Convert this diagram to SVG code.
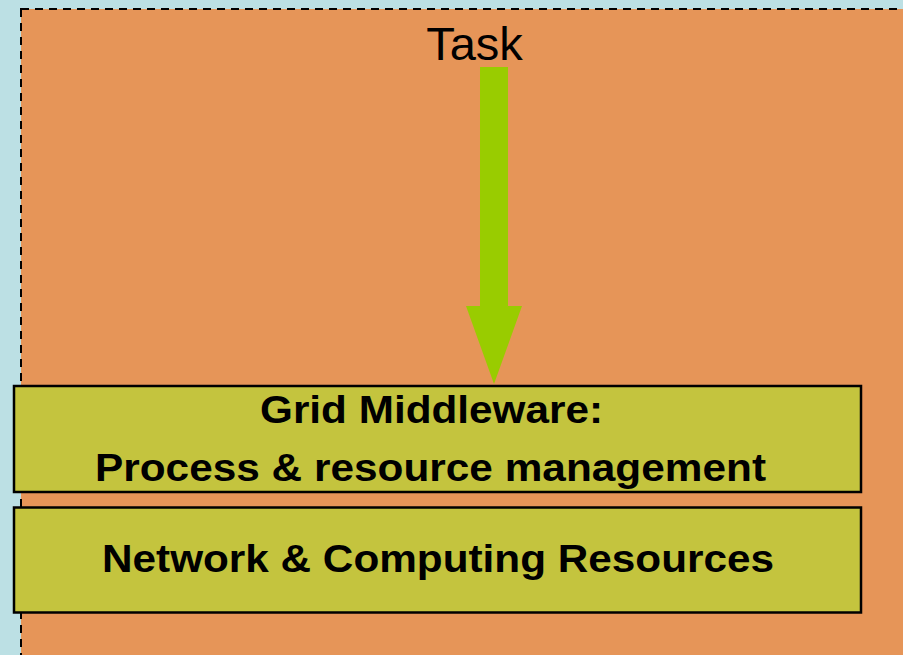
<svg xmlns="http://www.w3.org/2000/svg" width="903" height="655" viewBox="0 0 903 655">
<style>
.box{fill:#C4C43E;stroke:#000;stroke-width:2.5}
.lbl{font-family:"Liberation Sans",Arial,sans-serif;font-weight:bold;font-size:38px;fill:#000}
</style>
<rect x="0" y="0" width="903" height="655" fill="#BCE0E4"/>
<rect id="frame" x="21" y="9" width="900" height="700" fill="#E69558" stroke="#000" stroke-width="2" stroke-dasharray="8,6"/>
<text id="task" x="474.5" y="60" text-anchor="middle" font-family="'Liberation Sans',Arial,sans-serif" font-size="47" fill="#000">Task</text>
<g id="connectors">
<polygon points="480,67 508,67 508,306 522,306 494,384 466,306 480,306" fill="#99CC00"/>
</g>
<g id="middleware">
<rect class="box" x="14" y="386" width="847" height="106"/>
<text class="lbl" x="431.5" y="423" text-anchor="middle" textLength="343" lengthAdjust="spacingAndGlyphs">Grid Middleware:</text>
<text class="lbl" x="430.5" y="481" text-anchor="middle" textLength="671" lengthAdjust="spacingAndGlyphs">Process &amp; resource management</text>
</g>
<g id="resources">
<rect class="box" x="14" y="507.5" width="847" height="105"/>
<text class="lbl" x="438" y="572" text-anchor="middle" textLength="672" lengthAdjust="spacingAndGlyphs">Network &amp; Computing Resources</text>
</g>
</svg>
